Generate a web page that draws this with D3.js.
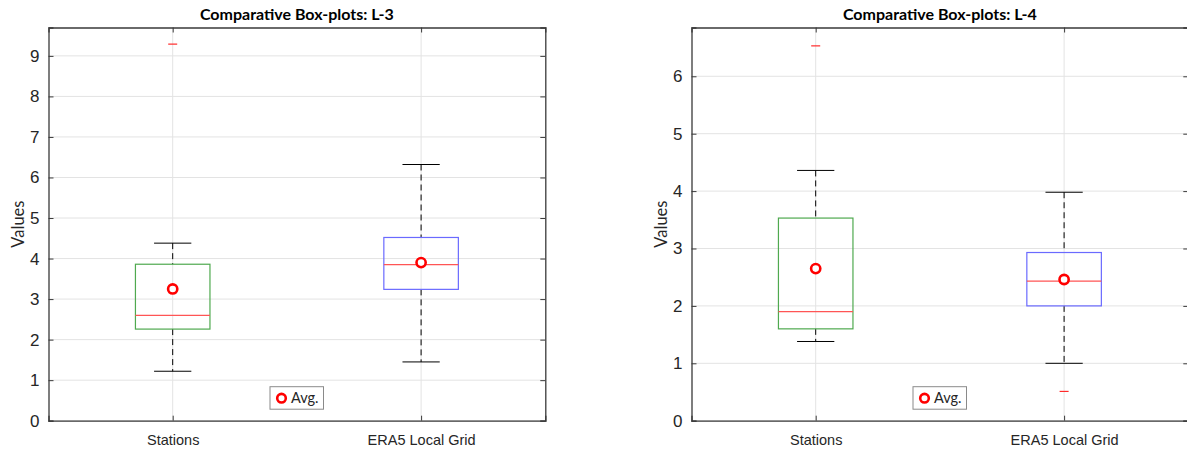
<!DOCTYPE html>
<html>
<head>
<meta charset="utf-8">
<script src="https://cdn.jsdelivr.net/npm/d3@7"></script>
<style>
  html, body { margin: 0; padding: 0; background: #fff; overflow: hidden; }
  svg { display: block; font-family: Lato, "Open Sans", sans-serif; }
</style>
</head>
<body>
<svg id="chart" width="1187" height="450"></svg>
<script>
// Box-plot summary statistics per panel (one value per category)
const categories = ["Stations", "ERA5 Local Grid"];
const boxColors = ["#4fa94f", "#6a6aff"];

const titleL3 = "Comparative Box-plots: L-3";
const lowL3 = [1.22, 1.45];
const q1L3 = [2.26, 3.24];
const medL3 = [2.60, 3.85];
const q3L3 = [3.86, 4.52];
const highL3 = [4.38, 6.32];
const meanL3 = [3.25, 3.90];
const outL3 = [[9.29], []];
const ticksL3 = [0, 1, 2, 3, 4, 5, 6, 7, 8, 9];
const yMaxL3 = 9.7;

const titleL4 = "Comparative Box-plots: L-4";
const lowL4 = [1.38, 1.00];
const q1L4 = [1.60, 2.00];
const medL4 = [1.90, 2.43];
const q3L4 = [3.53, 2.93];
const highL4 = [4.36, 3.98];
const meanL4 = [2.65, 2.46];
const outL4 = [[6.53], [0.51]];
const ticksL4 = [0, 1, 2, 3, 4, 5, 6];
const yMaxL4 = 6.85;

const legendLabel = "Avg.";
const yLabel = "Values";

const svg = d3.select("#chart");
const axisColor = "#3a3a3a";
const gridColor = "#e3e3e3";
const textColor = "#262626";

function drawPanel(cfg) {
  const { left, right, top, bottom } = cfg;
  const x = d3.scaleLinear().domain([0.5, 2.5]).range([left, right]);
  const y = d3.scaleLinear().domain([0, cfg.yMax]).range([bottom, top]);
  const g = svg.append("g");

  // grid
  g.selectAll(".gy").data(cfg.ticks).join("line")
    .attr("x1", left).attr("x2", right)
    .attr("y1", d => y(d)).attr("y2", d => y(d))
    .attr("stroke", gridColor).attr("stroke-width", 1);
  g.selectAll(".gx").data(categories).join("line")
    .attr("x1", (d, i) => x(i + 1)).attr("x2", (d, i) => x(i + 1))
    .attr("y1", top).attr("y2", bottom)
    .attr("stroke", gridColor).attr("stroke-width", 1);

  // axes (ticks inside)
  const yAxis = d3.axisLeft(y).tickValues(cfg.ticks).tickSize(-5).tickPadding(9).tickFormat(d3.format("d"));
  const gy = g.append("g").attr("transform", `translate(${left},0)`).call(yAxis);
  const yAxisR = d3.axisRight(y).tickValues(cfg.ticks).tickSize(-5).tickFormat("");
  const gyr = g.append("g").attr("transform", `translate(${right},0)`).call(yAxisR);
  const xAxis = d3.axisBottom(x).tickValues([1, 2]).tickSize(-5).tickPadding(14)
    .tickFormat((d) => categories[d - 1]);
  const gx = g.append("g").attr("transform", `translate(0,${bottom})`).call(xAxis);
  const xAxisT = d3.axisTop(x).tickValues([1, 2]).tickSize(-5).tickFormat("");
  const gxt = g.append("g").attr("transform", `translate(0,${top})`).call(xAxisT);
  [gy, gyr, gx, gxt].forEach(a => {
    a.select(".domain").attr("stroke", axisColor).attr("stroke-width", 1.3);
    a.selectAll(".tick line").attr("stroke", axisColor).attr("stroke-width", 1);
    a.selectAll(".tick text").attr("fill", textColor).attr("font-size", 14.5);
  });
  gy.selectAll(".tick text").attr("font-size", 17);

  // title
  g.append("text").attr("x", (left + right) / 2).attr("y", 20)
    .attr("text-anchor", "middle").attr("font-weight", "bold").attr("font-size", 16)
    .attr("fill", "#000").text(cfg.title);

  // y label
  g.append("text").attr("transform", `translate(${left - 25},${(top + bottom) / 2}) rotate(-90)`)
    .attr("text-anchor", "middle").attr("font-size", 16.5).attr("fill", textColor).text(yLabel);

  const boxW = 0.3, capW = 0.15;
  categories.forEach((c, i) => {
    const cx = x(i + 1);
    const bw = x(1 + boxW / 2) - x(1);
    const cw = x(1 + capW / 2) - x(1);
    // whiskers
    g.append("line").attr("x1", cx).attr("x2", cx).attr("y1", y(cfg.high[i])).attr("y2", y(cfg.q3[i]))
      .attr("stroke", "#000").attr("stroke-dasharray", "6,4").attr("stroke-width", 1);
    g.append("line").attr("x1", cx).attr("x2", cx).attr("y1", y(cfg.q1[i])).attr("y2", y(cfg.low[i]))
      .attr("stroke", "#000").attr("stroke-dasharray", "6,4").attr("stroke-width", 1);
    [cfg.high[i], cfg.low[i]].forEach(v => {
      g.append("line").attr("x1", cx - cw).attr("x2", cx + cw).attr("y1", y(v)).attr("y2", y(v))
        .attr("stroke", "#000").attr("stroke-width", 1);
    });
    // box
    g.append("rect").attr("x", cx - bw).attr("width", 2 * bw)
      .attr("y", y(cfg.q3[i])).attr("height", y(cfg.q1[i]) - y(cfg.q3[i]))
      .attr("fill", "none").attr("stroke", boxColors[i]).attr("stroke-width", 1.2);
    // median
    g.append("line").attr("x1", cx - bw).attr("x2", cx + bw).attr("y1", y(cfg.med[i])).attr("y2", y(cfg.med[i]))
      .attr("stroke", "#ff5555").attr("stroke-width", 1.2);
    // outliers
    cfg.out[i].forEach(v => {
      g.append("line").attr("x1", cx - 4.5).attr("x2", cx + 4.5).attr("y1", y(v)).attr("y2", y(v))
        .attr("stroke", "#ff2a2a").attr("stroke-width", 1.2);
    });
    // mean
    g.append("circle").attr("cx", cx).attr("cy", y(cfg.mean[i])).attr("r", 4.6)
      .attr("fill", "#fff").attr("stroke", "#ff0000").attr("stroke-width", 2.6);
  });

  // legend
  const lx = cfg.legendX, ly = bottom - 34;
  g.append("rect").attr("x", lx).attr("y", ly).attr("width", 53.5).attr("height", 22.5)
    .attr("fill", "#fff").attr("stroke", "#8a8a8a").attr("stroke-width", 1);
  g.append("circle").attr("cx", lx + 11.5).attr("cy", ly + 11.5).attr("r", 4.3)
    .attr("fill", "#fff").attr("stroke", "#ff0000").attr("stroke-width", 2.6);
  g.append("text").attr("x", lx + 21).attr("y", ly + 16.5).attr("font-size", 14.5)
    .attr("fill", textColor).text(legendLabel);
}

drawPanel({ left: 48.5, right: 545.3, top: 27.5, bottom: 420.7, yMax: yMaxL3, ticks: ticksL3,
  title: titleL3, legendX: 270, low: lowL3, q1: q1L3, med: medL3, q3: q3L3, high: highL3,
  mean: meanL3, out: outL3 });
drawPanel({ left: 691.5, right: 1188.3, top: 27.5, bottom: 420.7, yMax: yMaxL4, ticks: ticksL4,
  title: titleL4, legendX: 913, low: lowL4, q1: q1L4, med: medL4, q3: q3L4, high: highL4,
  mean: meanL4, out: outL4 });
</script>
</body>
</html>
